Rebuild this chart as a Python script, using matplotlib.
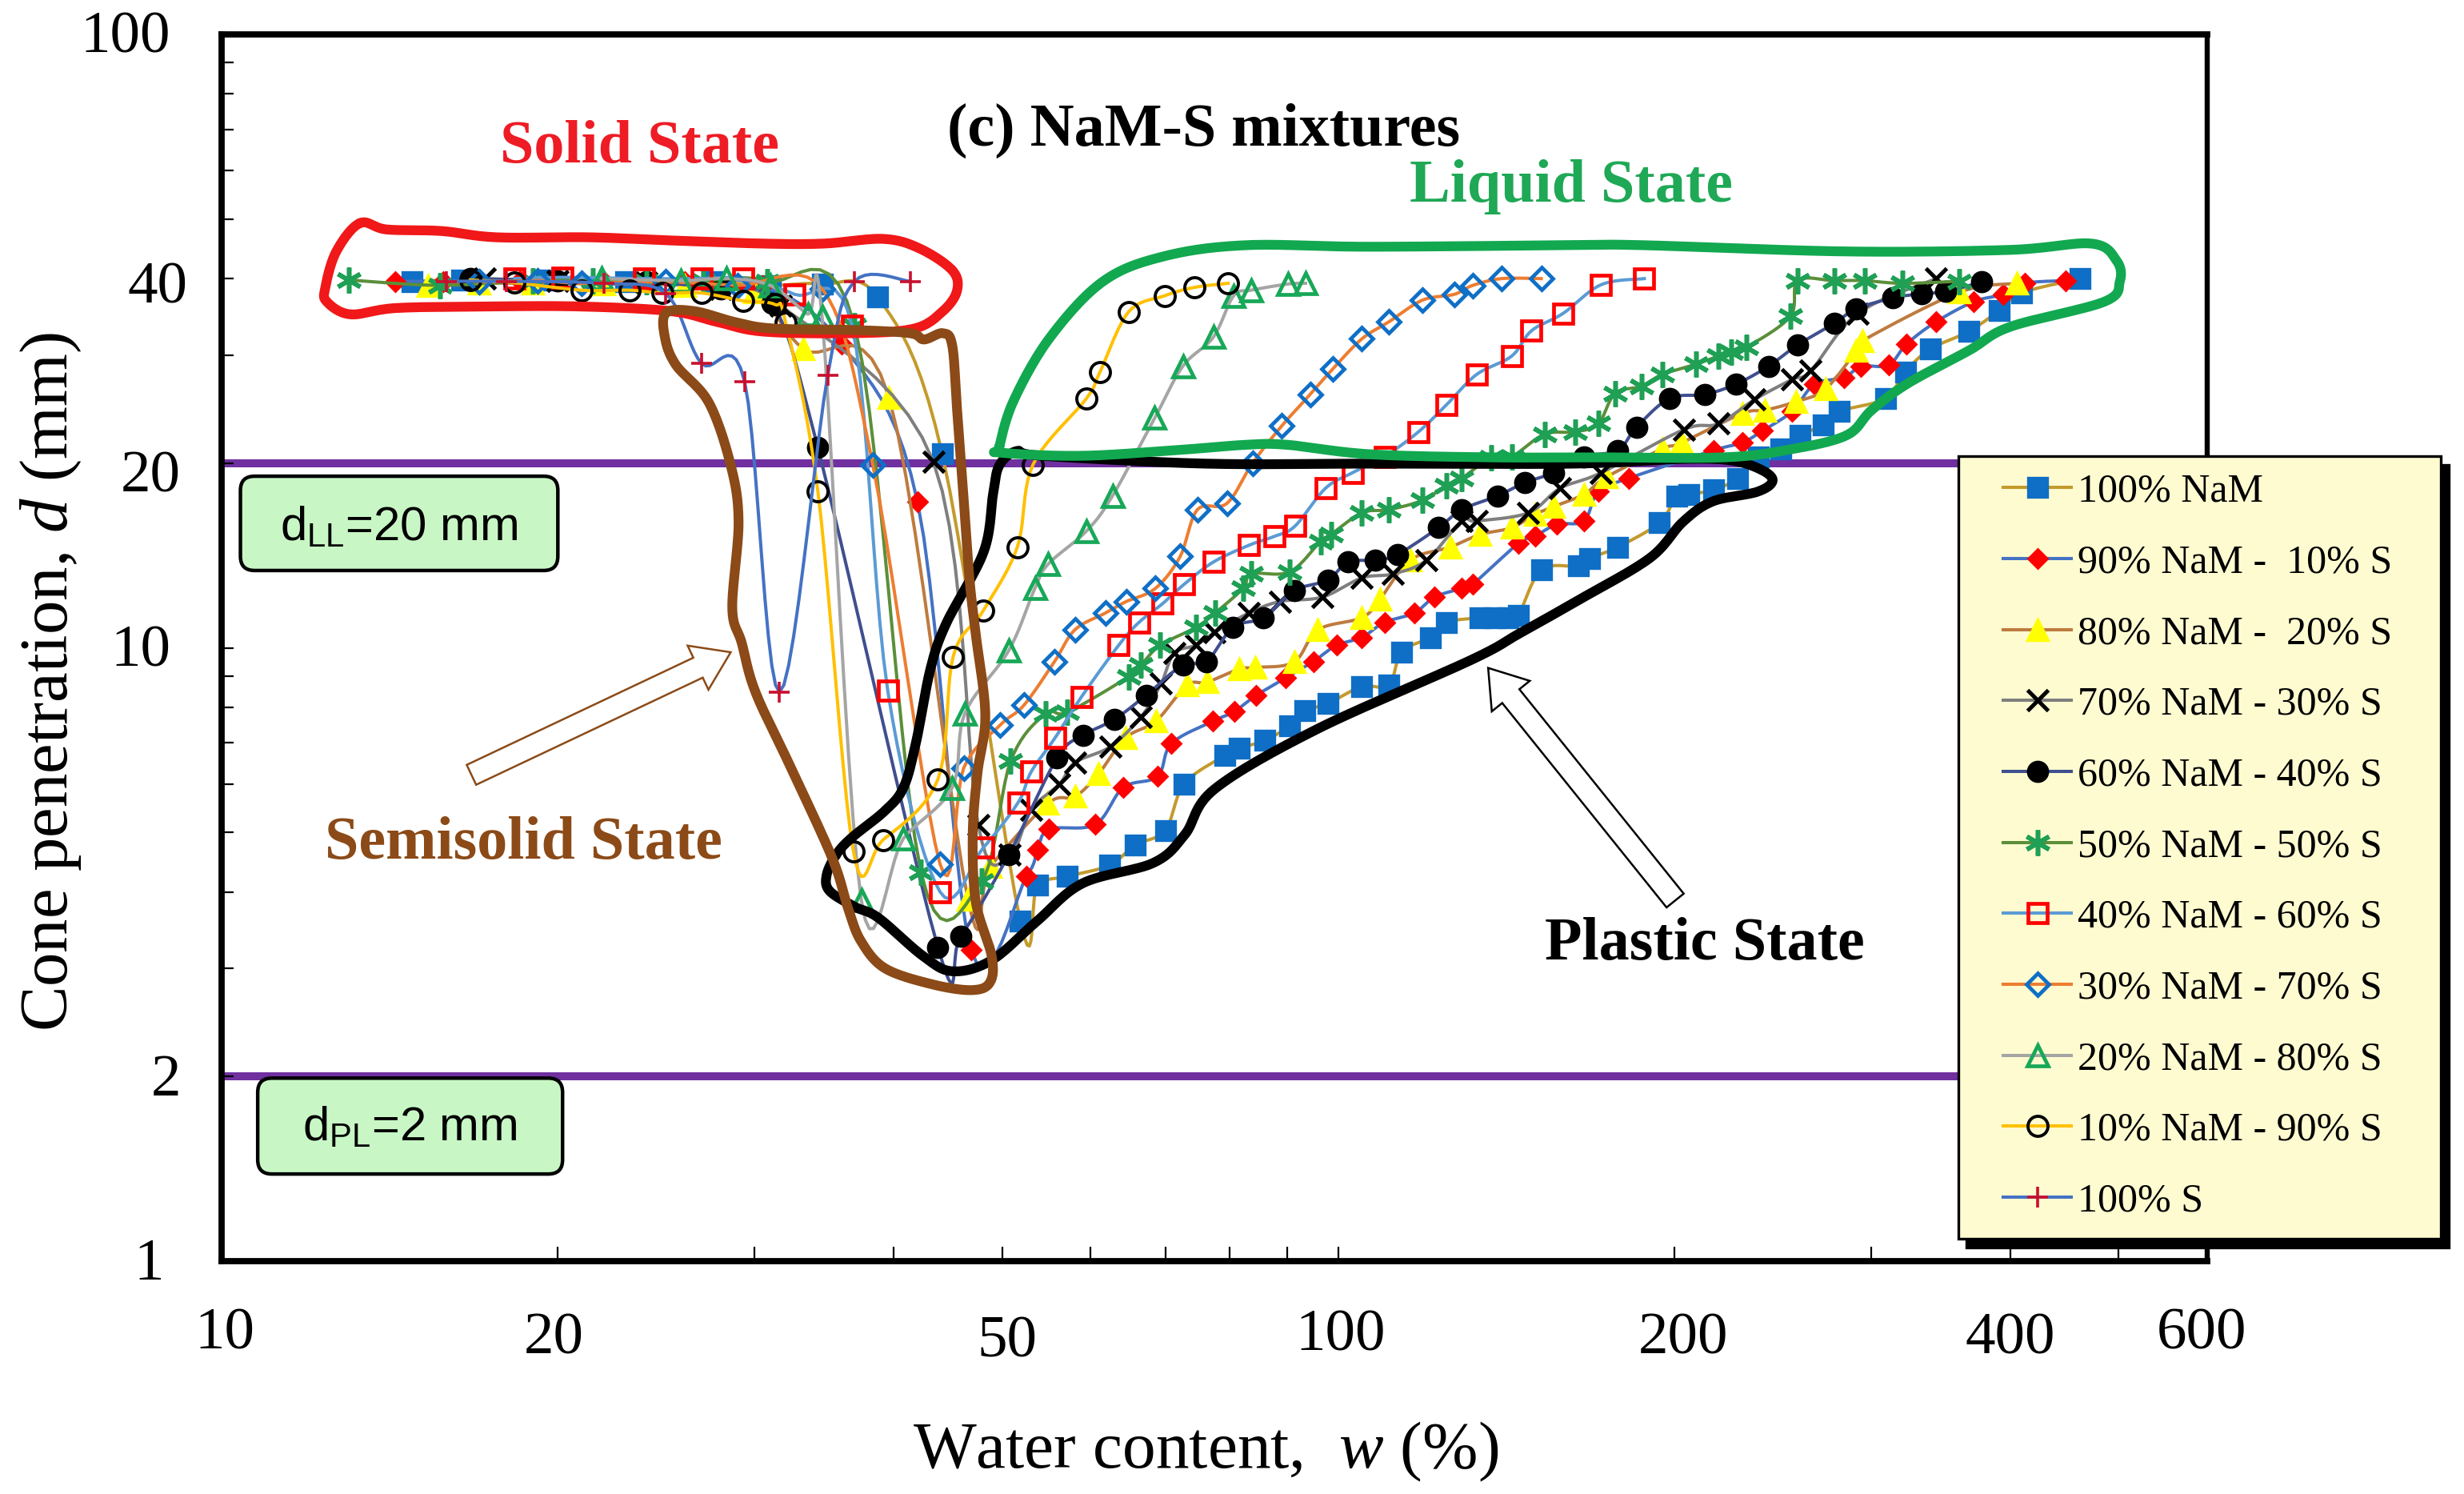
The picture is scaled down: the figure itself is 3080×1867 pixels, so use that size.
import numpy as np
import matplotlib
matplotlib.use('Agg')
import matplotlib.pyplot as plt
import matplotlib.patches as mpatches
from matplotlib.lines import Line2D
from matplotlib.ticker import LogLocator, NullFormatter
from matplotlib.transforms import ScaledTranslation

plt.rcParams['font.family'] = ['Liberation Serif', 'DejaVu Serif']
plt.rcParams['mathtext.fontset'] = 'custom'
plt.rcParams['mathtext.rm'] = 'Liberation Serif'
plt.rcParams['mathtext.it'] = 'Liberation Serif:italic'

# --- values: water content w (%) and cone penetration d (mm) ---
w_nam100 = [462, 409, 391, 367, 339, 322, 309, 281, 272, 259, 249, 238, 228, 217, 206, 201, 194, 178, 168, 164,
            152, 145, 142, 138, 134, 125, 121, 114, 111, 105, 98, 93.3, 90.5, 85.9, 81.5, 79.2, 72.8, 70.0, 65.8,
            62.4, 57.2, 53.8, 51.9, 44.2, 38.7, 34.5, 31, 27.5, 23, 19.5, 16.4, 14.8]
d_nam100 = [40, 37.9, 35.5, 32.8, 30.7, 28.2, 25.5, 24.3, 23.1, 22.2, 21.1, 20.5, 18.9, 18.1, 17.8, 17.7, 16.0, 14.6,
            14.0, 13.6, 13.4, 11.3, 11.2, 11.2, 11.2, 11.0, 10.4, 9.85, 8.69, 8.65, 8.12, 7.89, 7.46, 7.06, 6.86,
            6.68, 6.0, 5.04, 4.77, 4.42, 4.24, 4.11, 3.59, 20.7, 37.3, 39.2, 39, 39.5, 39.6, 39.8, 39.8, 39.6]

w_nam90 = [448, 412, 394, 371, 343, 323, 311, 294, 284, 267, 255, 240, 230, 217, 182, 171, 166, 157, 150, 145, 132,
           129, 122, 117, 110, 105, 99.7, 95, 89.7, 84.4, 80.7, 77.2, 70.9, 68.9, 64.2, 60.6, 55.1, 53.8, 52.6, 46.9,
           42.0, 35.9, 30.5, 26, 22, 18.5, 15.8, 14.3]
d_nam90 = [39.7, 39.3, 37.7, 36.7, 34.0, 31.3, 28.9, 28.8, 27.6, 26.9, 24.3, 22.6, 21.6, 21.0, 18.9, 18.0, 16.1, 15.9,
           15.2, 14.8, 12.7, 12.5, 12.1, 11.4, 11.0, 10.4, 10.1, 9.5, 8.93, 8.36, 7.87, 7.59, 6.98, 6.17, 5.92, 5.15,
           5.06, 4.69, 4.24, 3.22, 17.3, 31.3, 39, 39.6, 39.6, 39.7, 39.6, 39.6]

w_nam80 = [405, 360, 295, 291, 273, 257, 241, 230, 203, 195, 174, 166, 156, 150, 143, 134, 126, 116, 109, 105, 95.9,
           91.3, 84.3, 81.5, 76.3, 73.2, 68.7, 64.5, 61.0, 58.1, 54.9, 48.8, 46.6, 39.6, 33.2, 30, 26, 22, 19, 17, 15.3]
d_nam80 = [39.3, 38, 31.7, 30.5, 26.4, 25.2, 24.4, 24.1, 21.6, 21.1, 19.0, 17.8, 17.0, 16.5, 15.7, 15.3, 14.6, 13.9,
           12.0, 11.2, 10.7, 9.48, 9.29, 9.23, 8.79, 8.69, 7.6, 7.13, 6.23, 5.72, 5.57, 4.40, 3.89, 25.6, 30.7, 38,
           39, 39.2, 39.3, 39.3, 39]

w_nam70 = [343, 292, 265, 255, 236, 219, 204, 172, 158, 148, 133, 129, 120, 112, 105, 96.8, 88.7, 83.2, 77.5, 74.6,
           71.3, 69.4, 66.6, 62.5, 58.1, 56.3, 53.1, 50.8, 47.6, 43.4, 31.7, 28, 24, 20, 17.2]
d_nam70 = [40, 35.1, 28.3, 27.4, 25.4, 23.2, 22.7, 19.3, 18.2, 16.6, 16.1, 16.1, 13.9, 13.2, 13.0, 12.1, 11.9, 11.4,
           10.6, 10.1, 9.8, 8.74, 7.72, 6.90, 6.5, 6.0, 5.45, 4.60, 5.14, 20.1, 36.1, 38.5, 39.4, 39.7, 40]

w_nam60 = [377, 350, 333, 314, 291, 278, 258, 243, 227, 213, 198, 185, 178, 166, 156, 147, 139, 129, 123, 113, 108,
           102, 97.9, 91.3, 85.7, 80.5, 76.2, 72.6, 67.3, 63.0, 59.1, 56.0, 50.7, 45.9, 43.8, 34.2, 31.1, 28, 24, 20,
           16.7]
d_nam60 = [39.5, 38.1, 37.8, 37.2, 35.7, 33.8, 31.2, 28.8, 26.9, 25.9, 25.5, 22.9, 21.0, 20.5, 19.3, 18.6, 17.7, 16.8,
           15.7, 14.2, 13.9, 13.8, 12.9, 12.4, 11.2, 10.8, 9.49, 9.38, 8.37, 7.64, 7.2, 6.61, 4.60, 3.39, 3.25, 21.2,
           36.5, 38.5, 39.5, 39.7, 40]

w_nam50 = [360, 320, 296, 278, 258, 254, 232, 225, 219, 209, 195, 187, 177, 171, 163, 153, 143, 137, 129, 125, 119,
           111, 105, 98.5, 96.4, 90.5, 83.6, 82.2, 77.6, 74.6, 69.3, 66.6, 64.9, 57.2, 54.7, 50.9, 47.9, 42.3, 36.9,
           30.8, 27, 24, 21.5, 19, 15.7, 13.0]
d_nam50 = [39.6, 39.3, 39.7, 39.7, 39.7, 34.7, 30.9, 30.4, 29.9, 29.0, 27.9, 26.7, 26.0, 23.2, 22.5, 22.3, 20.5, 20.4,
           18.9, 18.4, 17.4, 16.8, 16.6, 15.3, 14.9, 13.3, 13.2, 12.5, 11.4, 10.8, 10.1, 9.38, 8.97, 7.85, 7.81, 6.54,
           4.16, 4.31, 33.5, 39.6, 39.7, 39.6, 39.7, 39.7, 39, 39.8]

w_nam40 = [188, 172, 159, 149, 143, 133, 125, 118, 110, 103, 97.4, 91.5, 87.7, 83.2, 77.3, 72.8, 69.6, 66.3, 63.6,
           58.9, 55.8, 53.1, 51.7, 48.1, 44.0, 39.5, 36.7, 32.6, 29.3, 26.9, 23.9, 20.2, 18.3]
d_nam40 = [40, 39.1, 35.1, 32.9, 29.9, 27.9, 24.9, 22.5, 20.5, 19.3, 18.2, 15.8, 15.2, 14.7, 13.8, 12.7, 11.8, 11.0,
           10.1, 8.32, 7.14, 6.28, 5.6, 4.72, 4.0, 8.52, 33.5, 37.7, 40, 40, 40, 40.2, 40]

w_nam30 = [152, 140, 132, 127, 119, 111, 105, 98.9, 94.4, 89, 83.8, 79.5, 74.8, 72.2, 68.6, 64.6, 61.9, 58.1, 55.7,
           52.3, 49.8, 46.2, 44.0, 38.3, 34.5, 29, 25, 21, 19.2, 17]
d_nam30 = [40, 40, 39, 37.7, 36.9, 34, 31.9, 28.5, 25.9, 23, 20.0, 17.2, 16.8, 14.1, 12.5, 11.9, 11.4, 10.7, 9.49,
           8.06, 7.48, 6.37, 4.44, 19.9, 38.5, 39, 39.5, 39.3, 39.7, 39.5]

w_nam20 = [93.5, 90.2, 83.6, 80.6, 77.3, 72.6, 68.5, 62.8, 59.5, 55.0, 53.5, 50.7, 46.3, 45.1, 40.8, 37.4, 34.5, 33.5,
           31, 28.3, 25.8, 21.9]
d_nam20 = [39.3, 39.2, 38.3, 37.5, 32.1, 28.8, 23.7, 17.7, 15.5, 13.7, 12.5, 9.9, 7.81, 5.91, 4.89, 3.88, 34.6, 35,
           39, 40, 39.7, 40]

w_nam10 = [79.7, 74.3, 69.9, 64.9, 61.2, 59.5, 53.3, 51.6, 48.1, 45.2, 43.8, 39.1, 36.8, 34.2, 32.0, 31.3, 29.3, 26.9,
           24.8, 23.2, 21.0, 18.3, 16.7]
d_nam10 = [39.3, 38.7, 37.5, 35.3, 28.2, 25.5, 19.9, 14.6, 11.5, 9.67, 6.10, 4.86, 4.66, 18.0, 33.9, 36.3, 36.8, 37.9,
           37.9, 38.3, 38.3, 39.4, 39.8]

w_s100 = [41.4, 36.9, 34.9, 31.6, 29.4, 26.9, 25, 22, 18, 15.9]
d_s100 = [39.6, 39.6, 27.8, 8.47, 27.2, 29.1, 37.8, 39.3, 39.6, 39.6]

labels = ['100% NaM', '90% NaM -  10% S', '80% NaM -  20% S', '70% NaM - 30% S', '60% NaM - 40% S', '50% NaM - 50% S',
          '40% NaM - 60% S', '30% NaM - 70% S', '20% NaM - 80% S', '10% NaM - 90% S', '100% S']
w_all = [w_nam100, w_nam90, w_nam80, w_nam70, w_nam60, w_nam50, w_nam40, w_nam30, w_nam20, w_nam10, w_s100]
d_all = [d_nam100, d_nam90, d_nam80, d_nam70, d_nam60, d_nam50, d_nam40, d_nam30, d_nam20, d_nam10, d_s100]

# line colour, marker, marker size, marker colour, filled or not, marker edge
styles = [('#C49A2C', 's', 8.8, '#0F6FC6', True, 1.2),
          ('#4472C4', 'D', 6, '#FF0000', True, 1.0),
          ('#BE7B3F', '^', 9.5, '#FFFF00', True, 1.2),
          ('#7F7F7F', 'x', 9.5, '#000000', False, 1.8),
          ('#3F4F8F', 'o', 9, '#000000', True, 1.0),
          ('#5B8F3A', (6, 2, 0), 11.5, '#1FA055', False, 2.0),
          ('#5B9BD5', 's', 8.5, '#FF0000', False, 1.7),
          ('#ED7D31', 'D', 7, '#0F6FC6', False, 1.7),
          ('#A5A5A5', '^', 9.5, '#17A858', False, 1.7),
          ('#FFC000', 'o', 9, '#000000', False, 1.4),
          ('#4472C4', '+', 9.5, '#C8102E', False, 1.3)]

x_ticks = [10, 20, 50, 100, 200, 400, 600]
y_ticks = [1, 2, 10, 20, 40, 100]

PX = 1.964 / 200  # one pixel of the 1568 wide layout, in inches


def smooth_line(w, d, n=10):
    # curve through the points in log space, like a smoothed spreadsheet line
    p = np.log10(np.column_stack([w, d]))
    p = np.vstack([p[0], p, p[-1]])
    t = np.linspace(0, 1, n, endpoint=False)[:, None]
    out = []
    for i in range(1, len(p) - 2):
        p0, p1, p2, p3 = p[i - 1], p[i], p[i + 1], p[i + 2]
        out.append(0.5 * (2 * p1 + (p2 - p0) * t + (2 * p0 - 5 * p1 + 4 * p2 - p3) * t ** 2
                          + (3 * p1 - p0 - 3 * p2 + p3) * t ** 3))
    out.append(p[-2:-1])
    out = 10 ** np.vstack(out)
    return out[:, 0], out[:, 1]


fig = plt.figure(figsize=(15.4, 9.335), dpi=200)
ax = fig.add_axes([141 / 1568, (950.6 - 802.4) / 950.6, 1263.5 / 1568, 780.4 / 950.6])
ax.set_xscale('log')
ax.set_yscale('log')
ax.set_xlim(10, 600)
ax.set_ylim(1, 100)

# limit lines
ax.axhline(20, color='#7030A0', lw=3.6, zorder=1)
ax.axhline(2, color='#7030A0', lw=3.6, zorder=1)

handles = []
for w, d, label, st in zip(w_all, d_all, labels, styles):
    line_c, mk, ms, mk_c, filled, mew = st
    sx, sy = smooth_line(w, d)
    ax.plot(sx, sy, color=line_c, lw=1.45, zorder=3)
    ax.plot(w, d, ls='none', marker=mk, ms=ms, mfc=mk_c if filled else 'none', mec=mk_c, mew=mew, zorder=3)
    handles.append(Line2D([], [], color=line_c, lw=1.45, marker=mk, ms=ms, mfc=mk_c if filled else 'none',
                          mec=mk_c, mew=mew, label=label))

# axes, ticks
ax.set_xticks(x_ticks)
ax.set_xticklabels([str(t) for t in x_ticks])
ax.set_yticks(y_ticks)
ax.set_yticklabels([str(t) for t in y_ticks])
ax.xaxis.set_minor_locator(LogLocator(base=10, subs=np.arange(2, 10), numticks=12))
ax.yaxis.set_minor_locator(LogLocator(base=10, subs=np.arange(2, 10), numticks=12))
ax.xaxis.set_minor_formatter(NullFormatter())
ax.yaxis.set_minor_formatter(NullFormatter())
ax.tick_params(axis='both', which='both', direction='in', width=0.8, labelsize=27)
ax.tick_params(axis='x', which='both', length=6.5)
ax.tick_params(axis='y', which='both', length=5.4)
ax.tick_params(axis='x', which='major', pad=23)
ax.tick_params(axis='y', which='major', pad=23)
for side, lw in [('left', 2.8), ('bottom', 2.8), ('top', 2.8), ('right', 2.3)]:
    ax.spines[side].set_linewidth(lw)

# the labels in the picture are placed by hand, nudge each one
x_nudge = [(2, -3), (-2.3, 0), (3.3, 2), (1.4, -2), (5.5, 0), (0, 0), (-3.5, -3)]
y_nudge = [(-4, -1.4), (6.6, -1), (0, -1.6), (6.6, 5), (10.7, 2.4), (0, -1.6)]
for lab, (dx, dy) in zip(ax.get_xticklabels(), x_nudge):
    lab.set_transform(lab.get_transform() + ScaledTranslation(dx * PX, -dy * PX, fig.dpi_scale_trans))
for lab, (dx, dy) in zip(ax.get_yticklabels(), y_nudge):
    lab.set_transform(lab.get_transform() + ScaledTranslation(dx * PX, -dy * PX, fig.dpi_scale_trans))

ax.set_xlabel(r'Water content,  $\mathit{w}$ (%)', fontsize=30, va='center')
ax.xaxis.set_label_coords(0.4955, -0.1558)
ax.set_ylabel(r'Cone penetration, $\mathit{d}$ (mm)', fontsize=30.5, va='center')
ax.yaxis.set_label_coords(-0.086, 0.472)

# legend box with its hard shadow
for dx, dy, fc, ec in [(5.5, 6, 'black', 'black'), (0, 0, '#FFFBD0', 'black')]:
    ax.add_patch(mpatches.Rectangle(((1246 + dx) / 1568, 1 - (788 + dy) / 950.6), 307 / 1568, 498 / 950.6,
                                    transform=fig.transFigure, clip_on=False, fc=fc, ec=ec, lw=1.2, zorder=8))
leg = ax.legend(handles=handles, loc='upper left', bbox_to_anchor=(1275 / 1568, 1 - 301 / 950.6),
                bbox_transform=fig.transFigure, fontsize=18, frameon=False, labelspacing=0.844, handlelength=1.69,
                handletextpad=0.16, borderaxespad=0, borderpad=0)
leg.set_zorder(10)


# --- hand drawn outlines and notes, on an overlay in picture coordinates ---
def smooth_loop(pts, n=16):
    # closed Catmull-Rom curve through the points
    p = np.array(pts, dtype=float)
    out = []
    t = np.linspace(0, 1, n, endpoint=False)[:, None]
    for i in range(len(p)):
        p0, p1, p2, p3 = p[i - 1], p[i], p[(i + 1) % len(p)], p[(i + 2) % len(p)]
        out.append(0.5 * (2 * p1 + (p2 - p0) * t + (2 * p0 - 5 * p1 + 4 * p2 - p3) * t ** 2
                          + (3 * p1 - p0 - 3 * p2 + p3) * t ** 3))
    out = np.vstack(out)
    return np.vstack([out, out[0]])


red_loop = [(229, 142), (246, 146), (281, 147), (316, 151), (375, 151), (427, 153), (486, 155), (524, 155), (562, 152),
            (585, 158), (606, 172), (609, 185), (600, 198), (582, 209), (544, 212), (486, 211), (457, 205), (427, 198),
            (369, 195), (310, 195), (252, 196), (223, 200), (208, 192), (207, 183), (214, 160)]
brown_loop = [(424, 199), (442, 198), (468, 205), (492, 209), (544, 210), (579, 212), (588, 216), (600, 212), (606, 220),
              (609, 260), (613, 314), (617, 369), (621, 404), (627, 455), (622, 492), (619, 531), (621, 574), (631, 608),
              (630, 625), (618, 630), (592, 626), (563, 616), (548, 599), (540, 579), (530, 547), (505, 492), (481, 441),
              (472, 409), (466, 387), (470, 332), (465, 296), (451, 256), (430, 232), (423, 214)]
green_loop = [(636, 284), (645, 255), (668, 215), (702, 179), (741, 163), (793, 156), (871, 157), (1001, 156), (1045, 156),
              (1175, 160), (1279, 159), (1331, 155), (1347, 166), (1349, 179), (1339, 192), (1279, 208), (1253, 223),
              (1214, 244), (1191, 261), (1175, 277), (1139, 286), (1097, 291), (1019, 291), (949, 291), (871, 289),
              (819, 283), (793, 283), (754, 286), (689, 290), (637, 288)]
black_loop = [(532, 544), (542, 533), (563, 516), (575, 501), (583, 472), (592, 426), (602, 397), (626, 351), (632, 314),
              (636, 296), (647, 287), (663, 290), (767, 295), (871, 295), (1001, 295), (1071, 292), (1102, 293), (1121, 299),
              (1128, 306), (1118, 313), (1090, 319), (1071, 332), (1050, 355), (1006, 381), (967, 403), (936, 420),
              (838, 464), (773, 502), (754, 531), (734, 549), (689, 562), (660, 586), (631, 611), (606, 618),
              (587, 608), (559, 584), (544, 577), (528, 567), (526, 557)]

over = fig.add_axes([0, 0, 1, 1], facecolor='none')
over.set_xlim(0, 1568)
over.set_ylim(950.6, 0)
over.axis('off')

for pts, col in [(red_loop, '#F01818'), (black_loop, '#000000'), (green_loop, '#12A850'), (brown_loop, '#8B4A17')]:
    c = smooth_loop(pts)
    over.plot(c[:, 0], c[:, 1], color=col, lw=4.4, solid_capstyle='round')

# hollow arrows
over.add_patch(mpatches.FancyArrow(300, 493, 165, -78, width=14, head_width=31, head_length=23,
                                   length_includes_head=True, fc='white', ec='#8B4A17', lw=0.9))
over.add_patch(mpatches.FancyArrow(1066, 573, -119, -148, width=14, head_width=31, head_length=23,
                                   length_includes_head=True, fc='white', ec='black', lw=0.9))

# green limit boxes
for x0, y0, bw, bh in [(153, 303, 202, 60), (164, 686, 194, 61)]:
    over.add_patch(mpatches.FancyBboxPatch((x0 + 9, y0 + 9), bw - 18, bh - 18, boxstyle='round,pad=9,rounding_size=9',
                                           fc='#C8F7C5', ec='black', lw=1.6))
over.text(254, 336, r'd$_{\mathregular{LL}}$=20 mm', family='Liberation Sans', fontsize=21.5, ha='center', va='center')
over.text(261, 718, r'd$_{\mathregular{PL}}$=2 mm', family='Liberation Sans', fontsize=21.5, ha='center', va='center')

over.text(407, 94, 'Solid State', color='#EE1C25', fontsize=27.4, fontweight='bold', ha='center', va='center')
over.text(1000, 119, 'Liquid State', color='#1FA855', fontsize=27.4, fontweight='bold', ha='center', va='center')
over.text(766, 83, '(c) NaM-S mixtures', color='black', fontsize=27.4, fontweight='bold', ha='center', va='center')
over.text(333, 537, 'Semisolid State', color='#8B4A17', fontsize=27.4, fontweight='bold', ha='center', va='center')
over.text(1085, 601, 'Plastic State', color='black', fontsize=27.4, fontweight='bold', ha='center', va='center')

fig.savefig('out.png', dpi=200)
